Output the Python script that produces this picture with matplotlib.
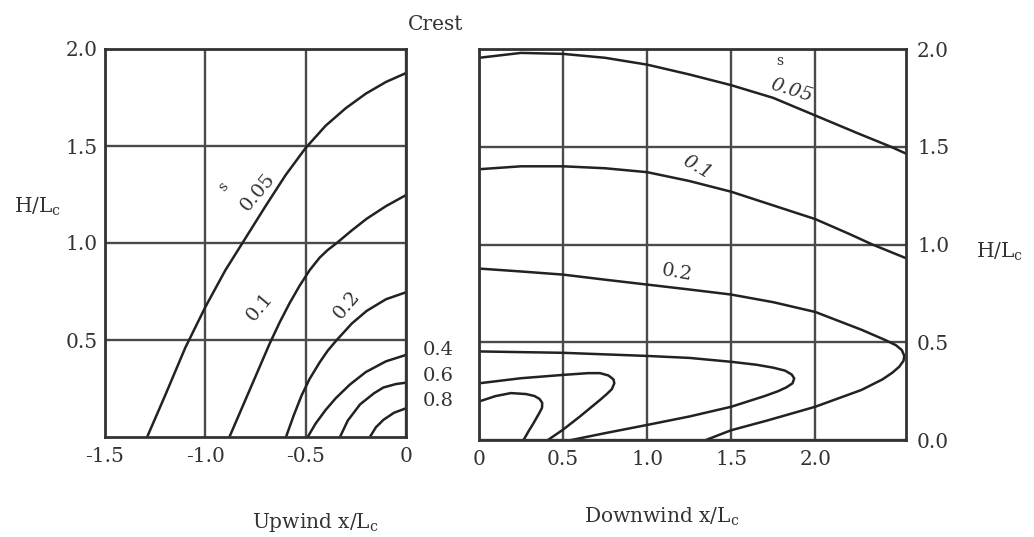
import matplotlib
matplotlib.use("Agg")
import matplotlib.pyplot as plt

plt.rcParams["font.family"] = "DejaVu Serif"
plt.rcParams["mathtext.fontset"] = "dejavuserif"

# Upwind side (x/Lc < 0), contours of speed-up s
up_005_x = [-1.29, -1.2, -1.1, -1.0, -0.9, -0.8, -0.7, -0.6, -0.5, -0.4, -0.3, -0.2, -0.1, 0.0]
up_005_y = [0.0, 0.215, 0.46, 0.67, 0.86, 1.025, 1.19, 1.35, 1.49, 1.605, 1.695, 1.77, 1.83, 1.876]
up_01_x = [-0.88, -0.83, -0.78, -0.73, -0.68, -0.63, -0.58, -0.53, -0.48, -0.43, -0.39, -0.345,
           -0.27, -0.196, -0.1, 0.0]
up_01_y = [0.0, 0.12, 0.24, 0.36, 0.48, 0.59, 0.69, 0.78, 0.86, 0.925, 0.964, 1.0,
           1.065, 1.125, 1.19, 1.247]
up_02_x = [-0.598, -0.56, -0.52, -0.48, -0.43, -0.39, -0.345, -0.27, -0.196, -0.1, 0.0]
up_02_y = [0.0, 0.11, 0.215, 0.3, 0.385, 0.445, 0.5, 0.585, 0.65, 0.71, 0.746]
up_04_x = [-0.49, -0.45, -0.4, -0.35, -0.28, -0.2, -0.1, 0.0]
up_04_y = [0.0, 0.07, 0.14, 0.2, 0.27, 0.335, 0.39, 0.423]
up_06_x = [-0.329, -0.29, -0.229, -0.16, -0.113, -0.05, 0.0]
up_06_y = [0.0, 0.085, 0.168, 0.225, 0.255, 0.273, 0.28]
up_08_x = [-0.18, -0.15, -0.113, -0.06, 0.0]
up_08_y = [0.0, 0.05, 0.088, 0.125, 0.148]

# Downwind side (x/Lc > 0)
dn_005_x = [0.0, 0.25, 0.5, 0.75, 1.0, 1.25, 1.5, 1.75, 2.0, 2.25, 2.45, 2.54]
dn_005_y = [1.955, 1.98, 1.975, 1.955, 1.92, 1.87, 1.815, 1.75, 1.66, 1.57, 1.5, 1.465]
dn_01_x = [0.0, 0.25, 0.5, 0.75, 1.0, 1.25, 1.5, 1.75, 2.0, 2.2, 2.34, 2.54]
dn_01_y = [1.385, 1.4, 1.4, 1.39, 1.37, 1.325, 1.27, 1.2, 1.13, 1.055, 1.0, 0.93]
dn_02_x = [0.0, 0.25, 0.5, 0.75, 1.0, 1.25, 1.5, 1.75, 2.0, 2.275, 2.42, 2.48, 2.515, 2.53,
           2.525, 2.5, 2.46, 2.4, 2.275, 2.0, 1.716, 1.5, 1.35]
dn_02_y = [0.877, 0.862, 0.846, 0.82, 0.795, 0.77, 0.744, 0.705, 0.655, 0.564, 0.51, 0.485, 0.46, 0.43,
           0.405, 0.375, 0.345, 0.31, 0.256, 0.17, 0.1, 0.05, 0.0]
dn_04_x = [0.0, 0.5, 1.0, 1.25, 1.5, 1.65, 1.75, 1.82, 1.86, 1.875, 1.865, 1.83, 1.78, 1.7,
           1.5, 1.25, 1.0, 0.75, 0.55]
dn_04_y = [0.453, 0.446, 0.43, 0.42, 0.4, 0.385, 0.37, 0.355, 0.335, 0.315, 0.29, 0.27, 0.25, 0.225,
           0.17, 0.12, 0.077, 0.035, 0.0]
dn_06_x = [0.0, 0.25, 0.5, 0.65, 0.72, 0.77, 0.8, 0.805, 0.79, 0.76, 0.72, 0.6, 0.5, 0.41]
dn_06_y = [0.29, 0.316, 0.333, 0.342, 0.342, 0.33, 0.31, 0.29, 0.26, 0.235, 0.205, 0.12, 0.053, 0.0]
dn_08_x = [0.0, 0.1, 0.19, 0.28, 0.33, 0.36, 0.376, 0.375, 0.36, 0.34, 0.325, 0.295, 0.265]
dn_08_y = [0.197, 0.225, 0.24, 0.235, 0.225, 0.21, 0.19, 0.165, 0.14, 0.11, 0.087, 0.045, 0.0]

up_xticks = [-1.5, -1.0, -0.5, 0.0]
up_xlabels = ["-1.5", "-1.0", "-0.5", "0"]
up_yticks = [0.5, 1.0, 1.5, 2.0]
up_ylabels = ["0.5", "1.0", "1.5", "2.0"]
dn_xticks = [0.0, 0.5, 1.0, 1.5, 2.0]
dn_xlabels = ["0", "0.5", "1.0", "1.5", "2.0"]
dn_yticks = [0.0, 0.5, 1.0, 1.5, 2.0]
dn_ylabels = ["0.0", "0.5", "1.0", "1.5", "2.0"]

W, H = 1034, 537
fig = plt.figure(figsize=(W / 100, H / 100), dpi=100)

ax1 = fig.add_axes([105 / W, 1 - 437 / H, 301 / W, 388 / H])
ax2 = fig.add_axes([479 / W, 1 - 440 / H, 427 / W, 391 / H])

txt = "#333333"
fs = 14.5
line_kw = dict(color="#222222", lw=1.8, solid_capstyle="round", solid_joinstyle="round")

for ax in (ax1, ax2):
    ax.grid(True, color="#4a4a4a", lw=1.7)
    ax.set_axisbelow(True)
    for sp in ax.spines.values():
        sp.set_linewidth(2.0)
        sp.set_color("#333333")
    ax.tick_params(length=0, labelsize=fs, labelcolor=txt)

ax1.set_xlim(-1.5, 0)
ax1.set_ylim(0, 2.0)
ax1.set_xticks(up_xticks, up_xlabels)
ax1.set_yticks(up_yticks, up_ylabels)
ax1.tick_params(axis="x", pad=7)
ax1.tick_params(axis="y", pad=5)

ax2.set_xlim(0, 2.54)
ax2.set_ylim(0, 2.0)
ax2.set_xticks(dn_xticks, dn_xlabels)
ax2.set_yticks(dn_yticks, dn_ylabels)
ax2.yaxis.tick_right()
ax2.tick_params(axis="x", pad=7)
ax2.tick_params(axis="y", pad=8)

for xs, ys in [(up_005_x, up_005_y), (up_01_x, up_01_y), (up_02_x, up_02_y),
               (up_04_x, up_04_y), (up_06_x, up_06_y), (up_08_x, up_08_y)]:
    ax1.plot(xs, ys, **line_kw)

for xs, ys in [(dn_005_x, dn_005_y), (dn_01_x, dn_01_y), (dn_02_x, dn_02_y),
               (dn_04_x, dn_04_y), (dn_06_x, dn_06_y), (dn_08_x, dn_08_y)]:
    ax2.plot(xs, ys, **line_kw)

# contour labels, upwind
lab = dict(color=txt, ha="center", va="center", fontsize=14)
ax1.text(-0.912, 1.29, "s", fontsize=10, rotation=50, color=txt, ha="center", va="center")
ax1.text(-0.738, 1.26, "0.05", rotation=50, **lab)
ax1.text(-0.728, 0.67, "0.1", rotation=50, **lab)
ax1.text(-0.294, 0.68, "0.2", rotation=50, **lab)

# contour labels, downwind
ax2.text(1.79, 1.94, "s", fontsize=10, color=txt, ha="center", va="center")
ax2.text(1.86, 1.785, "0.05", rotation=-17, style="italic", **lab)
ax2.text(1.30, 1.395, "0.1", rotation=-30, style="italic", **lab)
ax2.text(1.18, 0.856, "0.2", rotation=-10, **lab)

for lbl, py in [("0.4", 350), ("0.6", 376), ("0.8", 401)]:
    fig.text(438 / W, 1 - py / H, lbl, **lab)

fig.text(436 / W, 1 - 24 / H, "Crest", fontsize=fs, color=txt, ha="center", va="center")
fig.text(38 / W, 1 - 207 / H, r"H/L$_{\rm c}$", fontsize=fs, color=txt, ha="center", va="center")
fig.text(1000 / W, 1 - 252 / H, r"H/L$_{\rm c}$", fontsize=fs, color=txt, ha="center", va="center")
fig.text(315 / W, 1 - 523 / H, r"Upwind x/L$_{\rm c}$", fontsize=fs, color=txt, ha="center", va="center")
fig.text(662 / W, 1 - 517 / H, r"Downwind x/L$_{\rm c}$", fontsize=fs, color=txt, ha="center", va="center")

fig.savefig("out.png", dpi=100)
